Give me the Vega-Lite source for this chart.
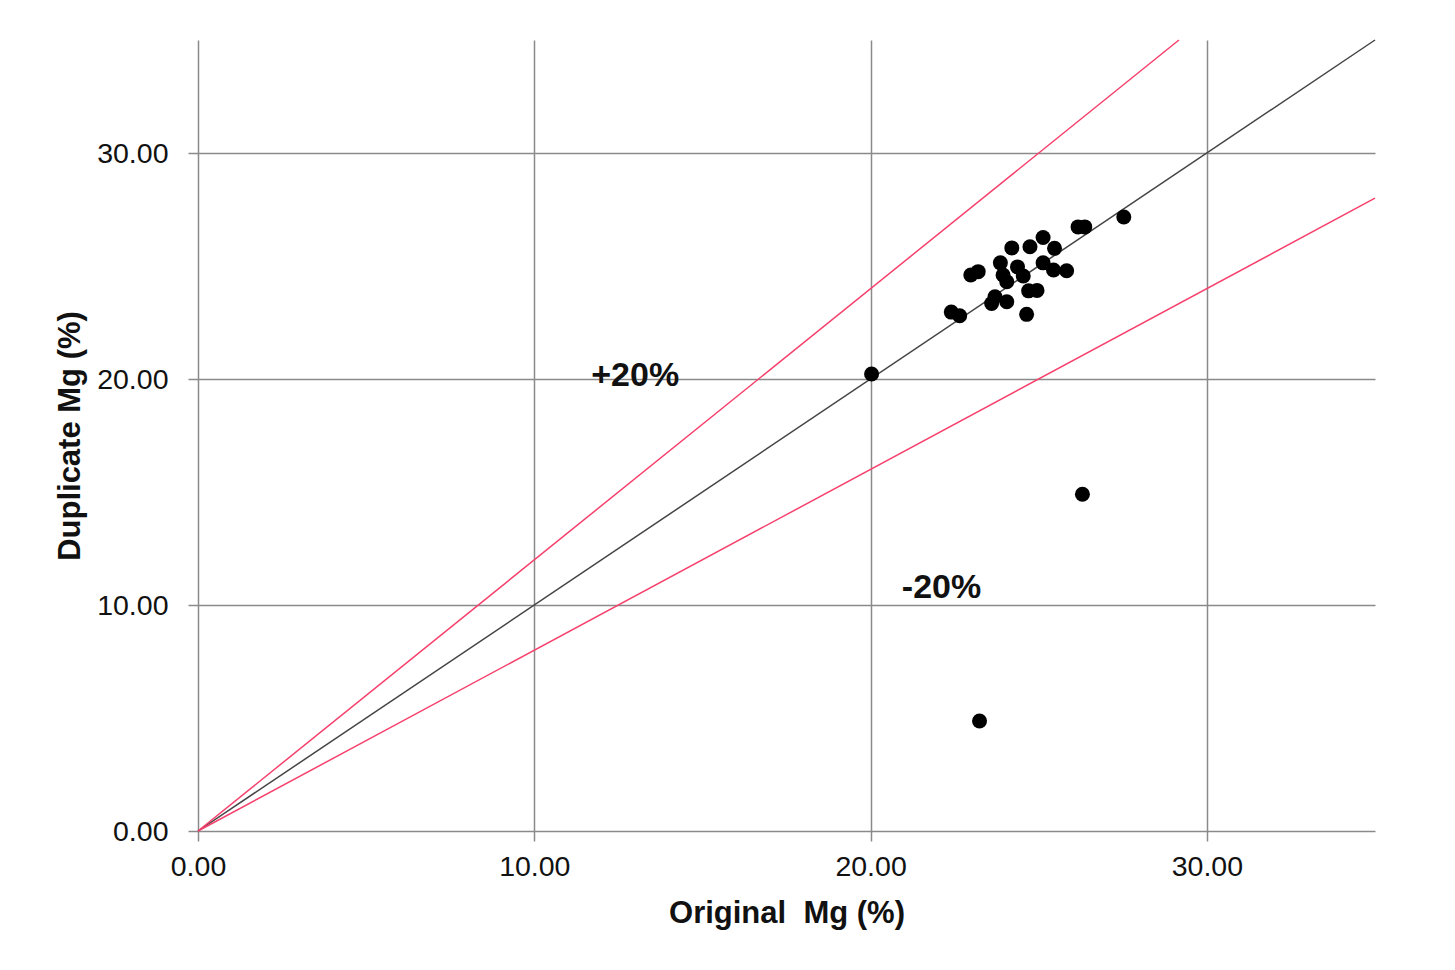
{
  "$schema": "https://vega.github.io/schema/vega-lite/v6.json",
  "autosize": {"type": "none"},
  "width": 1177,
  "height": 791,
  "padding": {"left": 198, "top": 40, "right": 80, "bottom": 139},
  "background": "white",
  "config": {
    "view": {"stroke": null},
    "font": "Liberation Sans",
    "axis": {
      "domain": false,
      "grid": true,
      "gridColor": "#8a8a8a",
      "gridWidth": 1.5,
      "gridOpacity": 1,
      "tickColor": "#8a8a8a",
      "tickWidth": 1.5,
      "tickSize": 10,
      "labelFont": "Liberation Sans",
      "labelFontSize": 28.5,
      "labelColor": "#111111",
      "labelFlush": false,
      "titleFont": "Liberation Sans",
      "titleFontSize": 31,
      "titleFontWeight": "bold",
      "titleColor": "#111111"
    }
  },
  "datasets": {
    "pts": [
      {"orig": 27.53, "dup": 27.17},
      {"orig": 26.17, "dup": 26.73},
      {"orig": 26.37, "dup": 26.73},
      {"orig": 25.13, "dup": 26.26},
      {"orig": 24.74, "dup": 25.85},
      {"orig": 24.2, "dup": 25.8},
      {"orig": 25.47, "dup": 25.78},
      {"orig": 23.86, "dup": 25.14},
      {"orig": 25.13, "dup": 25.14},
      {"orig": 24.37, "dup": 24.96},
      {"orig": 22.98, "dup": 24.6},
      {"orig": 23.2, "dup": 24.75},
      {"orig": 25.44, "dup": 24.82},
      {"orig": 25.83, "dup": 24.79},
      {"orig": 23.94, "dup": 24.6},
      {"orig": 24.54, "dup": 24.56},
      {"orig": 24.05, "dup": 24.3},
      {"orig": 24.7, "dup": 23.9},
      {"orig": 24.95, "dup": 23.92},
      {"orig": 23.7, "dup": 23.64},
      {"orig": 24.05, "dup": 23.42},
      {"orig": 23.6, "dup": 23.34},
      {"orig": 24.64, "dup": 22.86},
      {"orig": 22.4, "dup": 22.96},
      {"orig": 22.65, "dup": 22.8},
      {"orig": 20.03, "dup": 20.22},
      {"orig": 26.3, "dup": 14.9},
      {"orig": 23.24, "dup": 4.87}
    ],
    "lines": [
      {"series": "1:1", "orig": 0, "dup": 0},
      {"series": "1:1", "orig": 35, "dup": 35},
      {"series": "+20%", "orig": 0, "dup": 0},
      {"series": "+20%", "orig": 29.17, "dup": 35},
      {"series": "-20%", "orig": 0, "dup": 0},
      {"series": "-20%", "orig": 35, "dup": 28}
    ],
    "labels": [
      {"label": "+20%", "orig": 13.0, "dup": 20.13},
      {"label": "-20%", "orig": 22.11, "dup": 10.77}
    ]
  },
  "layer": [
    {
      "data": {"name": "lines"},
      "mark": {"type": "line", "strokeWidth": 1.5},
      "encoding": {
        "x": {"field": "orig", "type": "quantitative", "scale": {"domain": [0, 35], "nice": false},
              "axis": {"values": [0, 10, 20, 30], "format": ".2f", "title": "Original\u00a0 Mg (%)", "labelPadding": 11, "titlePadding": 18}},
        "y": {"field": "dup", "type": "quantitative", "scale": {"domain": [0, 35], "nice": false},
              "axis": {"values": [0, 10, 20, 30], "format": ".2f", "title": "Duplicate Mg (%)", "labelPadding": 20, "titlePadding": 10}},
        "detail": {"field": "series"},
        "color": {"field": "series", "type": "nominal", "legend": null,
                  "scale": {"domain": ["1:1", "+20%", "-20%"], "range": ["#444444", "#f5416c", "#f5416c"]}}
      }
    },
    {
      "data": {"name": "pts"},
      "mark": {"type": "point", "shape": "circle", "filled": true, "color": "#000000", "opacity": 1, "size": 225},
      "encoding": {
        "x": {"field": "orig", "type": "quantitative"},
        "y": {"field": "dup", "type": "quantitative"}
      }
    },
    {
      "data": {"name": "labels"},
      "mark": {"type": "text", "font": "Liberation Sans", "fontSize": 34, "fontWeight": "bold", "color": "#111111", "align": "center", "baseline": "middle"},
      "encoding": {
        "x": {"field": "orig", "type": "quantitative"},
        "y": {"field": "dup", "type": "quantitative"},
        "text": {"field": "label"}
      }
    }
  ]
}
